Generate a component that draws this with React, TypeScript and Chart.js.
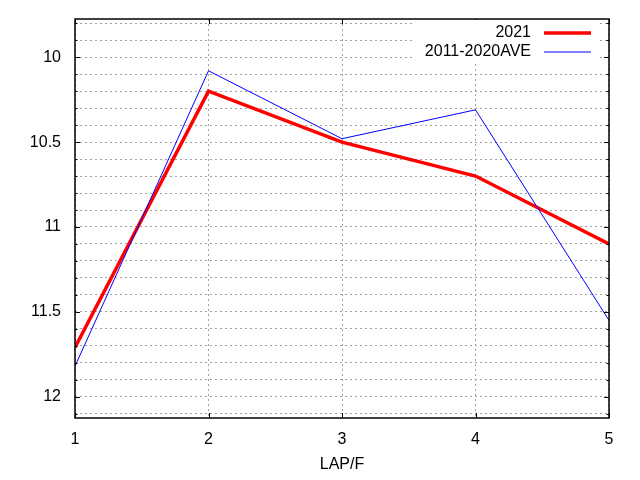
import React, { useEffect, useRef } from "react";
import { Chart, registerables } from "chart.js";

Chart.register(...registerables);

const laps = [1, 2, 3, 4, 5];
const series2021 = [11.71, 10.2, 10.5, 10.7, 11.1];
const seriesAve = [11.82, 10.08, 10.48, 10.31, 11.55];
const seriesLabels = ["2021", "2011-2020AVE"];
const yTickValues = [9.8, 9.9, 10, 10.1, 10.2, 10.3, 10.4, 10.5, 10.6, 10.7, 10.8, 10.9, 11, 11.1, 11.2, 11.3, 11.4, 11.5, 11.6, 11.7, 11.8, 11.9, 12, 12.1];
const yMajorLabels = ["10", "10.5", "11", "11.5", "12"];
const xTickValues = [1, 2, 3, 4, 5];
const xTitle = "LAP/F";

const FONT = "'Liberation Sans', Arial, sans-serif";

const framePlugin = {
  id: "frame",
  afterDatasetsDraw(chart: any) {
    const { ctx, chartArea } = chart;
    const { left, right, top, bottom } = chartArea;
    const ys = chart.scales.y;
    const xs = chart.scales.x;
    ctx.save();
    ctx.strokeStyle = "#000";
    ctx.lineWidth = 1;
    ctx.beginPath();
    for (const v of yTickValues) {
      const y = Math.round(ys.getPixelForValue(v)) + 0.5;
      const major = yMajorLabels.includes(String(v));
      const len = major ? 5 : 2.5;
      ctx.moveTo(left, y);
      ctx.lineTo(left + len, y);
      ctx.moveTo(right, y);
      ctx.lineTo(right - len, y);
    }
    for (const v of xTickValues) {
      const x = Math.round(xs.getPixelForValue(v)) + 0.5;
      ctx.moveTo(x, bottom);
      ctx.lineTo(x, bottom - 5);
      ctx.moveTo(x, top);
      ctx.lineTo(x, top + 5);
    }
    ctx.stroke();
    ctx.lineWidth = 1.5;
    ctx.strokeRect(left, top, right - left, bottom - top);
    ctx.restore();
  },
};

const legendPlugin = {
  id: "customLegend",
  afterDatasetsDraw(chart: any) {
    const { ctx, chartArea } = chart;
    ctx.save();
    ctx.fillStyle = "#fff";
    ctx.fillRect(413, chartArea.top + 1, 185, 42);
    ctx.font = `16px ${FONT}`;
    ctx.textAlign = "right";
    ctx.textBaseline = "middle";
    chart.data.datasets.forEach((ds: any, i: number) => {
      const y = 33 + i * 19;
      ctx.fillStyle = "#000";
      ctx.fillText(ds.label, 531, y);
      ctx.strokeStyle = ds.borderColor;
      ctx.lineWidth = ds.borderWidth;
      ctx.beginPath();
      ctx.moveTo(544, y);
      ctx.lineTo(591, y);
      ctx.stroke();
    });
    ctx.restore();
  },
};

export default function App() {
  const ref = useRef<HTMLCanvasElement>(null);
  useEffect(() => {
    if (!ref.current) return;
    const chart = new Chart(ref.current, {
      type: "line",
      data: {
        datasets: [
          {
            label: seriesLabels[0],
            data: laps.map((x, i) => ({ x, y: series2021[i] })),
            borderColor: "#ff0000",
            borderWidth: 3.5,
            pointRadius: 0,
            fill: false,
            order: 2,
          },
          {
            label: seriesLabels[1],
            data: laps.map((x, i) => ({ x, y: seriesAve[i] })),
            borderColor: "#0000ff",
            borderWidth: 1,
            pointRadius: 0,
            fill: false,
            order: 1,
          },
        ],
      },
      options: {
        animation: false,
        responsive: false,
        devicePixelRatio: 1,
        layout: { padding: { top: 19, right: 31, left: 0, bottom: 0 } },
        plugins: { legend: { display: false }, tooltip: { enabled: false } },
        scales: {
          x: {
            type: "linear",
            min: 1,
            max: 5,
            afterBuildTicks(scale: any) {
              scale.ticks = xTickValues.map((v) => ({ value: v }));
            },
            afterFit(scale: any) {
              scale.height = 62;
              scale.paddingLeft = 0;
              scale.paddingRight = 0;
            },
            ticks: {
              autoSkip: false,
              maxRotation: 0,
              padding: 12,
              color: "#000",
              font: { family: FONT, size: 16 },
              callback: (v: any) => String(v),
            },
            grid: { color: "#a0a0a0", drawTicks: false, lineWidth: 1 },
            border: { display: false, dash: [2, 3] },
            title: {
              display: true,
              text: xTitle,
              color: "#000",
              font: { family: FONT, size: 16 },
              padding: { top: 0, bottom: 6 },
            },
          },
          y: {
            type: "linear",
            reverse: true,
            min: 9.775,
            max: 12.125,
            afterBuildTicks(scale: any) {
              scale.ticks = yTickValues.map((v) => ({ value: v }));
            },
            afterFit(scale: any) {
              scale.width = 75;
              scale.paddingTop = 0;
              scale.paddingBottom = 0;
            },
            ticks: {
              autoSkip: false,
              padding: 14,
              color: "#000",
              font: { family: FONT, size: 16 },
              callback: (v: any) => {
                const s = String(Math.round(v * 10) / 10);
                return yMajorLabels.includes(s) ? s : "";
              },
            },
            grid: { color: "#a0a0a0", drawTicks: false, lineWidth: 1 },
            border: { display: false, dash: [2, 3] },
          },
        },
      },
      plugins: [framePlugin, legendPlugin],
    });
    return () => chart.destroy();
  }, []);
  return (
    <div style={{ position: "fixed", left: 0, top: 0, width: 640, height: 480, background: "#fff" }}>
      <canvas ref={ref} width={640} height={480} style={{ width: 640, height: 480 }} />
    </div>
  );
}
